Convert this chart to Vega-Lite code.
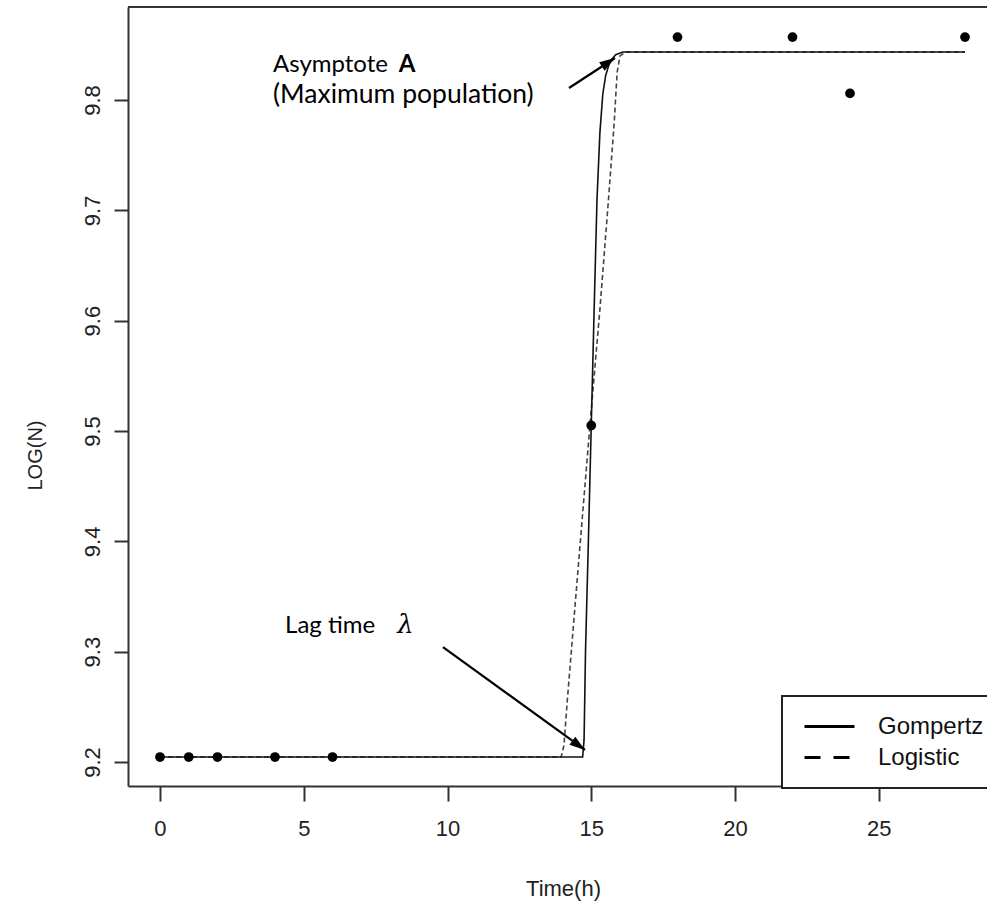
{
  "$schema": "https://vega.github.io/schema/vega-lite/v6.json",
  "width": 859,
  "height": 779,
  "autosize": {"type": "none"},
  "padding": {"left": 128, "top": 7, "right": 0, "bottom": 121},
  "background": "white",
  "config": {"view": {"stroke": null}, "font": "Liberation Sans, Arial, sans-serif"},
  "datasets": {
    "points": [
      {"t": 0, "logN": 9.2045}, {"t": 1, "logN": 9.2045}, {"t": 2, "logN": 9.2045},
      {"t": 4, "logN": 9.2045}, {"t": 6, "logN": 9.2045}, {"t": 15, "logN": 9.505},
      {"t": 18, "logN": 9.857}, {"t": 22, "logN": 9.857}, {"t": 24, "logN": 9.806},
      {"t": 28, "logN": 9.857}
    ],
    "curves": [
      {"model": "Gompertz", "t": 0, "logN": 9.2045},
      {"model": "Gompertz", "t": 14.7, "logN": 9.2045},
      {"model": "Gompertz", "t": 14.75, "logN": 9.22},
      {"model": "Gompertz", "t": 14.8, "logN": 9.3},
      {"model": "Gompertz", "t": 14.9, "logN": 9.4},
      {"model": "Gompertz", "t": 15.0, "logN": 9.505},
      {"model": "Gompertz", "t": 15.1, "logN": 9.61},
      {"model": "Gompertz", "t": 15.2, "logN": 9.71},
      {"model": "Gompertz", "t": 15.3, "logN": 9.77},
      {"model": "Gompertz", "t": 15.4, "logN": 9.805},
      {"model": "Gompertz", "t": 15.5, "logN": 9.822},
      {"model": "Gompertz", "t": 15.65, "logN": 9.835},
      {"model": "Gompertz", "t": 15.85, "logN": 9.841},
      {"model": "Gompertz", "t": 16.1, "logN": 9.8435},
      {"model": "Gompertz", "t": 28, "logN": 9.8435},
      {"model": "Logistic", "t": 0, "logN": 9.2045},
      {"model": "Logistic", "t": 13.95, "logN": 9.2045},
      {"model": "Logistic", "t": 14.05, "logN": 9.215},
      {"model": "Logistic", "t": 14.16, "logN": 9.2535},
      {"model": "Logistic", "t": 14.4, "logN": 9.33},
      {"model": "Logistic", "t": 14.7, "logN": 9.425},
      {"model": "Logistic", "t": 14.96, "logN": 9.507},
      {"model": "Logistic", "t": 15.3, "logN": 9.61},
      {"model": "Logistic", "t": 15.6, "logN": 9.71},
      {"model": "Logistic", "t": 15.8, "logN": 9.78},
      {"model": "Logistic", "t": 15.9, "logN": 9.825},
      {"model": "Logistic", "t": 16.0, "logN": 9.84},
      {"model": "Logistic", "t": 16.2, "logN": 9.8435},
      {"model": "Logistic", "t": 28, "logN": 9.8435}
    ],
    "arrows": [
      {"name": "asymptote", "t": 14.226, "logN": 9.8109, "t2": 15.826, "logN2": 9.8381},
      {"name": "lag", "t": 9.843, "logN": 9.3042, "t2": 14.783, "logN2": 9.2109}
    ],
    "notes": [
      {"kind": "plain", "t": 3.93, "logN": 9.8254, "label": "Asymptote"},
      {"kind": "bold", "t": 8.3, "logN": 9.8254, "label": "A"},
      {"kind": "wide", "t": 3.93, "logN": 9.797, "label": "(Maximum population)"},
      {"kind": "plain", "t": 4.35, "logN": 9.3169, "label": "Lag time"},
      {"kind": "greek", "t": 8.25, "logN": 9.3169, "label": "λ"}
    ]
  },
  "layer": [
    {
      "data": {"name": "curves"},
      "transform": [{"filter": "datum.model === 'Logistic'"}],
      "mark": {"type": "line", "color": "#444", "strokeWidth": 1.6, "strokeDash": [5, 3]},
      "encoding": {
        "x": {"field": "t", "type": "quantitative",
          "scale": {"domain": [-1.113, 28.765], "nice": false, "zero": false},
          "axis": {"values": [0, 5, 10, 15, 20, 25], "grid": false, "tickSize": 15, "tickWidth": 2,
            "tickColor": "#333", "domainColor": "#333", "domainWidth": 2, "labelFontSize": 22,
            "labelFont": "Liberation Sans, Arial, sans-serif", "labelColor": "#222", "labelPadding": 17, "labelFlush": false,
            "title": "Time(h)", "titleFont": "Liberation Sans, Arial, sans-serif", "titleFontSize": 22, "titleFontWeight": "normal",
            "titleColor": "#222", "titleX": 435, "titleY": 102, "titleBaseline": "middle", "titleAlign": "center"}},
        "y": {"field": "logN", "type": "quantitative",
          "scale": {"domain": [9.17825, 9.8843], "nice": false, "zero": false},
          "axis": {"values": [9.2, 9.3, 9.4, 9.5, 9.6, 9.7, 9.8], "format": ".1f", "grid": false,
            "tickSize": 14, "tickWidth": 2, "tickColor": "#333", "domainColor": "#333", "domainWidth": 2,
            "labelFontSize": 22, "labelFont": "Liberation Sans, Arial, sans-serif", "labelColor": "#222", "labelAngle": 270,
            "labelAlign": "center", "labelBaseline": "alphabetic", "labelPadding": 15,
            "title": "LOG(N)", "titleFont": "Liberation Sans, Arial, sans-serif", "titleFontSize": 20, "titleFontWeight": "normal",
            "titleColor": "#222", "titleAngle": 270, "titleX": -93, "titleY": 448,
            "titleAlign": "center", "titleBaseline": "middle"}}
      }
    },
    {
      "data": {"name": "curves"},
      "transform": [{"filter": "datum.model === 'Gompertz'"}],
      "mark": {"type": "line", "color": "#111", "strokeWidth": 1.6},
      "encoding": {
        "x": {"field": "t", "type": "quantitative"},
        "y": {"field": "logN", "type": "quantitative"}
      }
    },
    {
      "data": {"name": "curves"},
      "mark": {"type": "line", "color": "black", "strokeWidth": 0},
      "encoding": {
        "x": {"field": "t", "type": "quantitative"},
        "y": {"field": "logN", "type": "quantitative"},
        "strokeDash": {"field": "model", "type": "nominal",
          "scale": {"domain": ["Gompertz", "Logistic"], "range": [[1, 0], [16, 13]]},
          "legend": {"title": null, "orient": "none", "legendX": 654, "legendY": 689, "padding": 15,
            "strokeColor": "#222", "fillColor": "white", "symbolType": "stroke", "symbolSize": 2500,
            "symbolStrokeWidth": 3, "symbolStrokeColor": "black", "symbolOpacity": 1, "symbolOffset": 6,
            "labelFontSize": 24, "labelFont": "Liberation Sans, Arial, sans-serif", "labelColor": "#111",
            "labelOffset": 22, "rowPadding": 0, "clipHeight": 31,
            "encode": {"legend": {"update": {"strokeWidth": {"value": 2}}}}}}
      }
    },
    {
      "data": {"name": "points"},
      "mark": {"type": "circle", "size": 95, "color": "black", "opacity": 1},
      "encoding": {
        "x": {"field": "t", "type": "quantitative"},
        "y": {"field": "logN", "type": "quantitative"}
      }
    },
    {
      "data": {"name": "curves"},
      "mark": {"type": "rule", "color": "#333", "strokeWidth": 2},
      "encoding": {"y": {"datum": 9.8843, "type": "quantitative"}}
    },
    {
      "data": {"name": "arrows"},
      "mark": {"type": "rule", "color": "black", "strokeWidth": 2.2},
      "encoding": {
        "x": {"field": "t", "type": "quantitative"},
        "y": {"field": "logN", "type": "quantitative"},
        "x2": {"field": "t2"},
        "y2": {"field": "logN2"}
      }
    },
    {
      "data": {"name": "arrows"},
      "transform": [{"filter": "datum.name === 'asymptote'"}],
      "mark": {"type": "point", "shape": "M0,0L-0.45,1.4L0.45,1.4Z", "size": 500, "filled": true,
        "color": "black", "opacity": 1, "angle": 57},
      "encoding": {
        "x": {"field": "t2", "type": "quantitative"},
        "y": {"field": "logN2", "type": "quantitative"}
      }
    },
    {
      "data": {"name": "arrows"},
      "transform": [{"filter": "datum.name === 'lag'"}],
      "mark": {"type": "point", "shape": "M0,0L-0.45,1.4L0.45,1.4Z", "size": 500, "filled": true,
        "color": "black", "opacity": 1, "angle": 126},
      "encoding": {
        "x": {"field": "t2", "type": "quantitative"},
        "y": {"field": "logN2", "type": "quantitative"}
      }
    },
    {
      "data": {"name": "notes"},
      "transform": [{"filter": "datum.kind === 'plain'"}],
      "mark": {"type": "text", "align": "left", "baseline": "alphabetic", "font": "Lato", "fontSize": 24, "color": "black"},
      "encoding": {
        "x": {"field": "t", "type": "quantitative"},
        "y": {"field": "logN", "type": "quantitative"},
        "text": {"field": "label"}
      }
    },
    {
      "data": {"name": "notes"},
      "transform": [{"filter": "datum.kind === 'wide'"}],
      "mark": {"type": "text", "align": "left", "baseline": "alphabetic", "font": "Lato", "fontSize": 26.5, "color": "black"},
      "encoding": {
        "x": {"field": "t", "type": "quantitative"},
        "y": {"field": "logN", "type": "quantitative"},
        "text": {"field": "label"}
      }
    },
    {
      "data": {"name": "notes"},
      "transform": [{"filter": "datum.kind === 'bold'"}],
      "mark": {"type": "text", "align": "left", "baseline": "alphabetic", "font": "Lato", "fontSize": 24, "fontWeight": "bold", "color": "black"},
      "encoding": {
        "x": {"field": "t", "type": "quantitative"},
        "y": {"field": "logN", "type": "quantitative"},
        "text": {"field": "label"}
      }
    },
    {
      "data": {"name": "notes"},
      "transform": [{"filter": "datum.kind === 'greek'"}],
      "mark": {"type": "text", "align": "left", "baseline": "alphabetic", "font": "DejaVu Serif", "fontStyle": "italic", "fontSize": 26, "color": "black"},
      "encoding": {
        "x": {"field": "t", "type": "quantitative"},
        "y": {"field": "logN", "type": "quantitative"},
        "text": {"field": "label"}
      }
    }
  ]
}
